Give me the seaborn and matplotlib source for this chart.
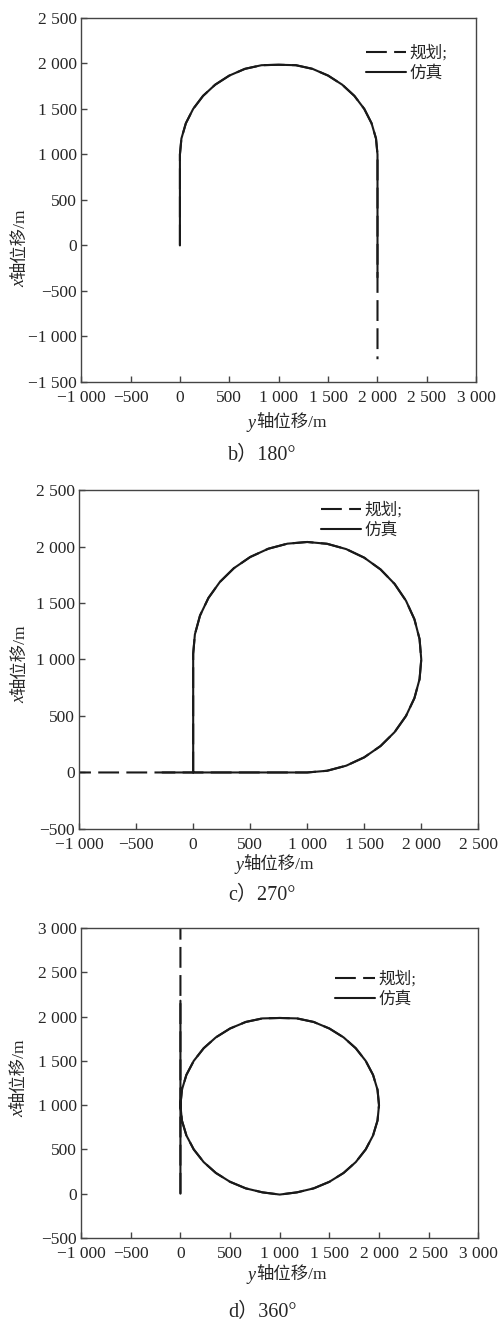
import numpy as np
import pandas as pd
import seaborn as sns
import matplotlib.pyplot as plt
from matplotlib.ticker import FuncFormatter

# ---- panel b) 180 deg : (y displacement, x displacement) in m
b_plan_y = [0, 0, 15, 60, 134, 234, 357, 500, 658, 826, 1000, 1174, 1342, 1500, 1643, 1766, 1866, 1940, 1985, 2000, 2000]
b_plan_x = [0, 1000, 1174, 1342, 1500, 1643, 1766, 1866, 1940, 1980, 1985, 1980, 1940, 1866, 1766, 1643, 1500, 1342, 1174, 1000, -1250]
b_sim_y = [0, 0, 15, 60, 134, 234, 357, 500, 658, 826, 1000, 1174, 1342, 1500, 1643, 1766, 1866, 1940, 1985, 2000, 2000]
b_sim_x = [0, 1000, 1174, 1342, 1500, 1643, 1766, 1866, 1940, 1980, 1985, 1980, 1940, 1866, 1766, 1643, 1500, 1342, 1174, 1000, -350]

# ---- panel c) 270 deg
c_plan_y = [0, 0, 15, 60, 134, 234, 357, 500, 658, 826, 1000,
            1174, 1342, 1500, 1643, 1766, 1866, 1940, 1985, 2000,
            1985, 1940, 1866, 1766, 1643, 1500, 1342, 1174, 1000, 800, -1000]
c_plan_x = [0, 1050, 1222, 1389, 1545, 1686, 1808, 1907, 1980, 2025, 2040,
            2024, 1977, 1901, 1797, 1669, 1520, 1356, 1181, 1000,
            826, 658, 500, 357, 234, 134, 60, 15, 0, 0, 0]
c_sim_y = c_plan_y[:-1] + [-270]
c_sim_x = c_plan_x[:-1] + [0]

# ---- panel d) 360 deg
d_circle_y = [0, 15, 60, 134, 234, 357, 500, 658, 826, 1000, 1174, 1342, 1500, 1643, 1766, 1866, 1940, 1985,
              2000, 1985, 1940, 1866, 1766, 1643, 1500, 1342, 1174, 1000, 826, 658, 500, 357, 234, 134, 60, 15, 0]
d_circle_x = [1000, 1174, 1342, 1500, 1643, 1766, 1866, 1940, 1980, 1985, 1980, 1940, 1866, 1766, 1643, 1500, 1342, 1174,
              1000, 826, 658, 500, 357, 234, 134, 60, 15, -10, 15, 60, 134, 234, 357, 500, 658, 826, 1000]
d_plan_y = [0] + d_circle_y + [0]
d_plan_x = [0] + d_circle_x + [3000]
d_sim_y = [0] + d_circle_y + [0]
d_sim_x = [0] + d_circle_x + [2180]

W, H = 504, 1324  # figure size in pixels

panels = [
    dict(py=b_plan_y, px=b_plan_x, sy=b_sim_y, sx=b_sim_x, xlim=(-1000, 3000), ylim=(-1500, 2500),
         xticks=range(-1000, 3001, 500), yticks=range(-1500, 2501, 500),
         rect=[0.161, 0.7115, 0.784, 0.275], leg=(0.72, 0.925), title="b）180°", ty=0.6563,
         xlab=(248, 423), ylab=(20, 287)),
    dict(py=c_plan_y, px=c_plan_x, sy=c_sim_y, sx=c_sim_x, xlim=(-1000, 2500), ylim=(-500, 2500),
         xticks=range(-1000, 2501, 500), yticks=range(-500, 2501, 500),
         rect=[0.157, 0.3739, 0.792, 0.256], leg=(0.605, 0.965), title="c）270°", ty=0.3235,
         xlab=(235, 865), ylab=(20, 703)),
    dict(py=d_plan_y, px=d_plan_x, sy=d_sim_y, sx=d_sim_x, xlim=(-1000, 3000), ylim=(-500, 3000),
         xticks=range(-1000, 3001, 500), yticks=range(-500, 3001, 500),
         rect=[0.161, 0.065, 0.788, 0.234], leg=(0.64, 0.86), title="d）360°", ty=0.0085,
         xlab=(248, 1275), ylab=(19, 1117)),
]

sns.set_theme(style="ticks")
plt.rcParams['font.family'] = ['Liberation Serif', 'Noto Sans CJK SC', 'DejaVu Sans']


def fmt(v, pos):
    s = f"{abs(int(v)):,}".replace(",", " ")
    return ("\u2212" + s) if v < 0 else s


fig = plt.figure(figsize=(W / 100, H / 100), dpi=100)

for p in panels:
    ax = fig.add_axes(p['rect'])
    plan = pd.DataFrame({'y': p['py'], 'x': p['px']})
    sim = pd.DataFrame({'y': p['sy'], 'x': p['sx']})
    sns.lineplot(data=plan, x='y', y='x', sort=False, estimator=None, ax=ax,
                 color='#1a1a1a', linewidth=1.5, linestyle=(0, (10, 3.5)), label='规划;')
    sns.lineplot(data=sim, x='y', y='x', sort=False, estimator=None, ax=ax,
                 color='#1a1a1a', linewidth=1.5, label='仿真')
    ax.set_xlim(*p['xlim'])
    ax.set_ylim(*p['ylim'])
    ax.set_xticks(list(p['xticks']))
    ax.set_yticks(list(p['yticks']))
    ax.xaxis.set_major_formatter(FuncFormatter(fmt))
    ax.yaxis.set_major_formatter(FuncFormatter(fmt))
    ax.tick_params(direction='in', length=4, width=1, labelsize=12.5, color='#444444')
    ax.tick_params(axis='x', pad=6)
    ax.tick_params(axis='y', pad=3)
    for sp in ax.spines.values():
        sp.set_linewidth(1.0)
        sp.set_color('#444444')
    ax.set_xlabel('')
    ax.set_ylabel('')

    # axis labels: italic latin letter followed by the CJK words
    lx, ly = p['xlab']
    t = fig.text(lx / W, 1 - ly / H, 'y', fontstyle='italic', fontsize=13, ha='left', va='center')
    ax.annotate('轴位移/m', xy=(1, 0.5), xycoords=t, ha='left', va='center', fontsize=12.5,
                annotation_clip=False)
    lx, ly = p['ylab']
    t = fig.text(lx / W, 1 - ly / H, 'x', fontstyle='italic', fontsize=13, rotation=90,
                 ha='center', va='bottom')
    ax.annotate('轴位移/m', xy=(0.5, 1), xycoords=t, ha='center', va='bottom', fontsize=12.5,
                rotation=90, annotation_clip=False)

    ax.legend(loc='upper left', bbox_to_anchor=p['leg'], frameon=False, fontsize=12,
              handlelength=2.4, handletextpad=0.2, labelspacing=0.25, borderpad=0, borderaxespad=0)
    fig.text(0.52, p['ty'], p['title'], ha='center', va='center', fontsize=14.5)

fig.savefig('out.png', dpi=100)
